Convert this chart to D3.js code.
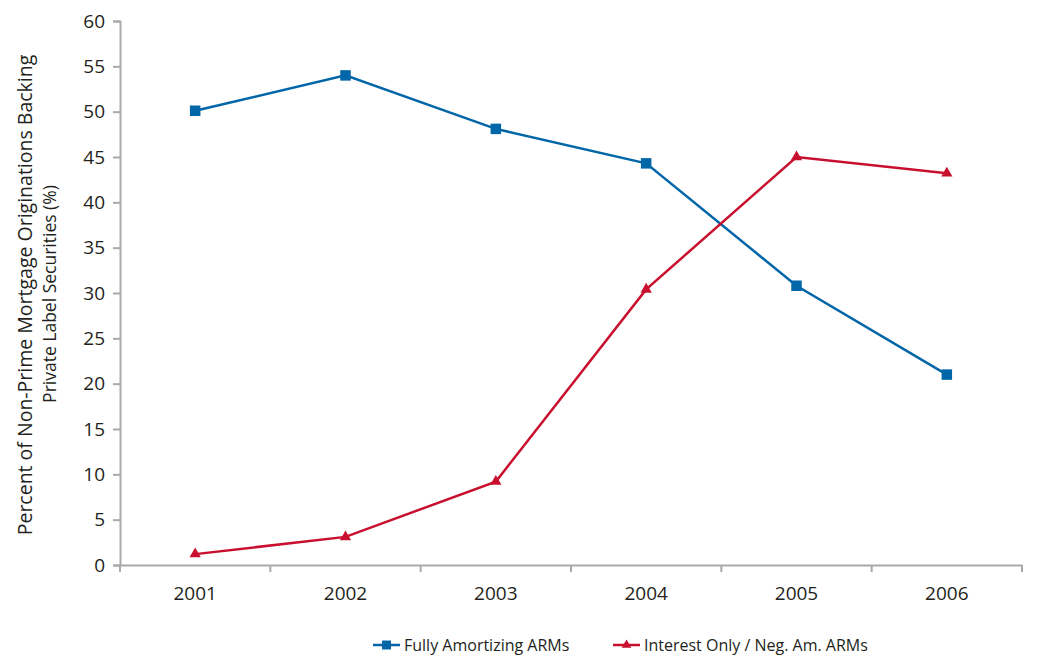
<!DOCTYPE html>
<html>
<head>
<meta charset="utf-8">
<script src="https://cdn.jsdelivr.net/npm/d3@7"></script>
<style>
  body { margin: 0; background: #fff; }
  text { font-family: "Open Sans", "Noto Sans", sans-serif; fill: #231f20; }
</style>
</head>
<body>
<div id="chart-container"></div>
<script>
const years = ["2001", "2002", "2003", "2004", "2005", "2006"];
const fullyAmortizing = [50.1, 54.0, 48.1, 44.3, 30.8, 21.0];
const interestOnly = [1.2, 3.1, 9.2, 30.4, 45.0, 43.2];
const yTicks = [0, 5, 10, 15, 20, 25, 30, 35, 40, 45, 50, 55, 60];

const width = 1037, height = 658;
const plotLeft = 120, plotRight = 1022, plotTop = 21, plotBottom = 565;

const svg = d3.select("#chart-container")
    .append("svg")
    .attr("width", width)
    .attr("height", height);

const x = d3.scaleBand()
    .domain(years)
    .range([plotLeft, plotRight]);

const y = d3.scaleLinear()
    .domain([0, 60])
    .range([plotBottom, plotTop]);

// y axis
const yAxis = svg.append("g")
    .attr("transform", `translate(${plotLeft},0)`)
    .call(d3.axisLeft(y).tickValues(yTicks).tickSize(7).tickPadding(8));
yAxis.selectAll("text").style("font-size", "19px");

// x axis (ticks at band edges)
const xAxis = svg.append("g")
    .attr("transform", `translate(0,${plotBottom})`)
    .call(d3.axisBottom(x).tickSize(0).tickPadding(22));
xAxis.selectAll("text").style("font-size", "19px");
xAxis.selectAll(".edge")
    .data(years.concat(["end"]))
    .enter()
    .append("line")
    .attr("x1", (d, i) => i < years.length ? x(d) : x.range()[1])
    .attr("x2", (d, i) => i < years.length ? x(d) : x.range()[1])
    .attr("y1", 0)
    .attr("y2", 7);

svg.selectAll(".domain, .tick line, g line")
    .attr("stroke", "#a7a9ac")
    .attr("stroke-width", 2);

const cx = d => x(d) + x.bandwidth() / 2;

const line = d3.line()
    .x(d => cx(d.year))
    .y(d => y(d.value));

const blueData = years.map((yr, i) => ({ year: yr, value: fullyAmortizing[i] }));
const redData = years.map((yr, i) => ({ year: yr, value: interestOnly[i] }));

const blue = "#0066a8", red = "#c8102e";

svg.append("path")
    .datum(blueData)
    .attr("d", line)
    .attr("fill", "none")
    .attr("stroke", blue)
    .attr("stroke-width", 2.5);

svg.append("path")
    .datum(redData)
    .attr("d", line)
    .attr("fill", "none")
    .attr("stroke", red)
    .attr("stroke-width", 2.5);

const square = d3.symbol().type(d3.symbolSquare).size(110);
const triangle = d3.symbol().type(d3.symbolTriangle).size(55);

svg.selectAll(".sq")
    .data(blueData)
    .enter()
    .append("path")
    .attr("d", square)
    .attr("transform", d => `translate(${cx(d.year)},${y(d.value)})`)
    .attr("fill", blue);

svg.selectAll(".tri")
    .data(redData)
    .enter()
    .append("path")
    .attr("d", triangle)
    .attr("transform", d => `translate(${cx(d.year)},${y(d.value)})`)
    .attr("fill", red);

// y title
svg.append("text")
    .attr("transform", "translate(32,295) rotate(-90)")
    .attr("text-anchor", "middle")
    .style("font-size", "19.5px")
    .text("Percent of Non-Prime Mortgage Originations Backing");

svg.append("text")
    .attr("transform", "translate(56,294) rotate(-90)")
    .attr("text-anchor", "middle")
    .style("font-size", "17.5px")
    .text("Private Label Securities (%)");

// legend
const legend = [
    { name: "Fully Amortizing ARMs", color: blue, sym: d3.symbol().type(d3.symbolSquare).size(80), x: 373 },
    { name: "Interest Only / Neg. Am. ARMs", color: red, sym: d3.symbol().type(d3.symbolTriangle).size(40), x: 613 }
];
const lg = svg.selectAll(".legend")
    .data(legend)
    .enter()
    .append("g")
    .attr("transform", d => `translate(${d.x},645)`);
lg.append("line")
    .attr("x1", 0).attr("x2", 27)
    .attr("stroke", d => d.color)
    .attr("stroke-width", 2.5);
lg.append("path")
    .attr("d", d => d.sym())
    .attr("transform", "translate(13.5,0)")
    .attr("fill", d => d.color);
lg.append("text")
    .attr("x", 31)
    .attr("dy", "0.35em")
    .style("font-size", "16px")
    .text(d => d.name);
</script>
</body>
</html>
